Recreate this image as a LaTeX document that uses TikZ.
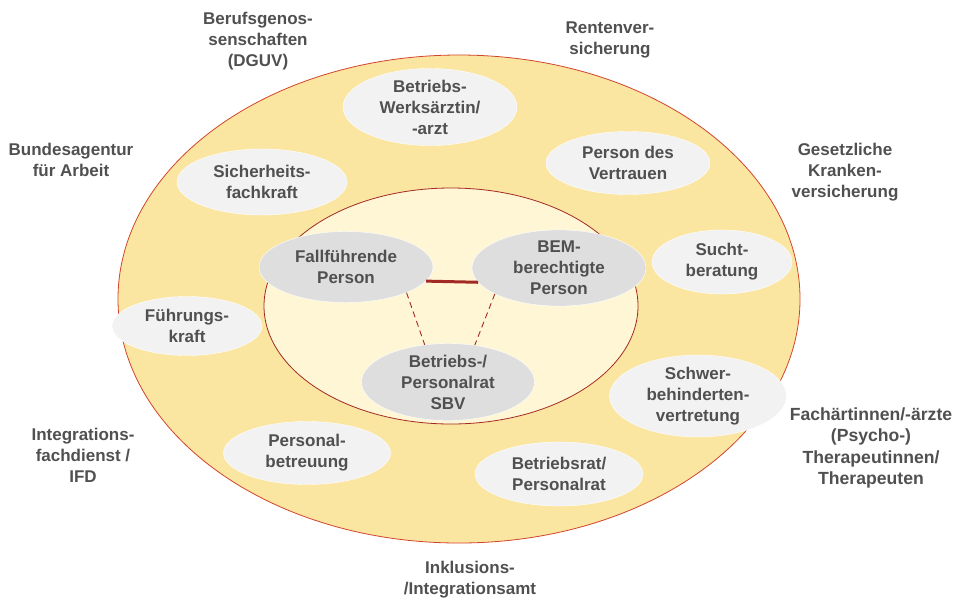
\documentclass[tikz,border=0pt]{standalone}
\usepackage{fontspec}
\setmainfont{Liberation Sans}
\usetikzlibrary{shapes.geometric}

\definecolor{ringgold}{HTML}{FAE5A1}
\definecolor{ringline}{HTML}{D2452B}
\definecolor{corefill}{HTML}{FEF6D4}
\definecolor{coreline}{HTML}{A32A24}
\definecolor{txtgray}{HTML}{505050}

\begin{document}
\begin{tikzpicture}[x=1pt,y=-1pt,
    every node/.style={font=\fontsize{17}{21}\selectfont\bfseries, text=txtgray, align=center},
    corebox/.style={ellipse, fill=black!13, draw=white, inner sep=0pt, minimum width=174pt, minimum height=71pt},
    ringbox/.style={ellipse, fill=black!5, draw=white, inner sep=0pt, minimum width=170pt, minimum height=66pt},
    solidlink/.style={coreline, line width=3pt},
    dashlink/.style={coreline, dash pattern=on 6pt off 4pt, line width=0.9pt}]
    \useasboundingbox (0,0) rectangle (957,598);

    % rings
    \draw[ringline, fill=ringgold, line width=0.8pt] (459,299) ellipse [x radius=341pt, y radius=244pt];
    \draw[coreline, fill=corefill, line width=0.8pt] (451,306) ellipse [x radius=187pt, y radius=118pt];

    % core
    \node[corebox] (fall) at (346,267) {Fallführende\\Person};
    \node[corebox] (bem) at (559,268) {BEM-\\berechtigte\\Person};
    \node[corebox, minimum width=173pt, minimum height=70pt] (rat) at (448,382) {Betriebs-/\\Personalrat\\SBV};

    \draw[solidlink] (fall.-10) -- (bem.190);
    \draw[dashlink] (fall.-23) -- (rat.122);
    \draw[dashlink] (bem.-158) -- (rat.54);

    % ring
    \node[ringbox, minimum width=174pt, minimum height=72pt] (arzt) at (430,107) {Betriebs-\\Werksärztin/\\-arzt};
    \node[ringbox] (sifa) at (262,182) {Sicherheits-\\fachkraft};
    \node[ringbox, minimum width=164pt, minimum height=63pt] (vertrauen) at (628,163) {Person des\\Vertrauen};
    \node[ringbox, minimum width=140pt, minimum height=64pt] (sucht) at (722,262) {Sucht-\\beratung};
    \node[ringbox, minimum width=150pt, minimum height=59pt] (fuehrung) at (187,326) {Führungs-\\kraft};
    \node[ringbox, minimum width=177pt, minimum height=63pt] (sbv) at (698,396) {Schwer-\\behinderten-\\vertretung};
    \node[ringbox, minimum width=167pt, minimum height=63pt] (betreuung) at (307,453) {Personal-\\betreuung};
    \node[ringbox, minimum width=168pt, minimum height=64pt] (brat) at (559,474) {Betriebsrat/\\Personalrat};

    % outside
    \node (dguv) at (258,41) {Berufsgenos-\\senschaften\\(DGUV)};
    \node (rente) at (610,40) {Rentenver-\\sicherung};
    \node (ba) at (71,160) {Bundesagentur\\für Arbeit};
    \node (gkv) at (845,172) {Gesetzliche\\Kranken-\\versicherung};
    \node (ifd) at (83,455) {Integrations-\\fachdienst /\\IFD};
    \node[font=\fontsize{17.6}{21.5}\selectfont\bfseries] (fach) at (871,448) {Fachärtinnen/-ärzte\\(Psycho-)\\Therapeutinnen/\\Therapeuten};
    \node (inka) at (470,580) {Inklusions-\\/Integrationsamt};
\end{tikzpicture}
\end{document}
